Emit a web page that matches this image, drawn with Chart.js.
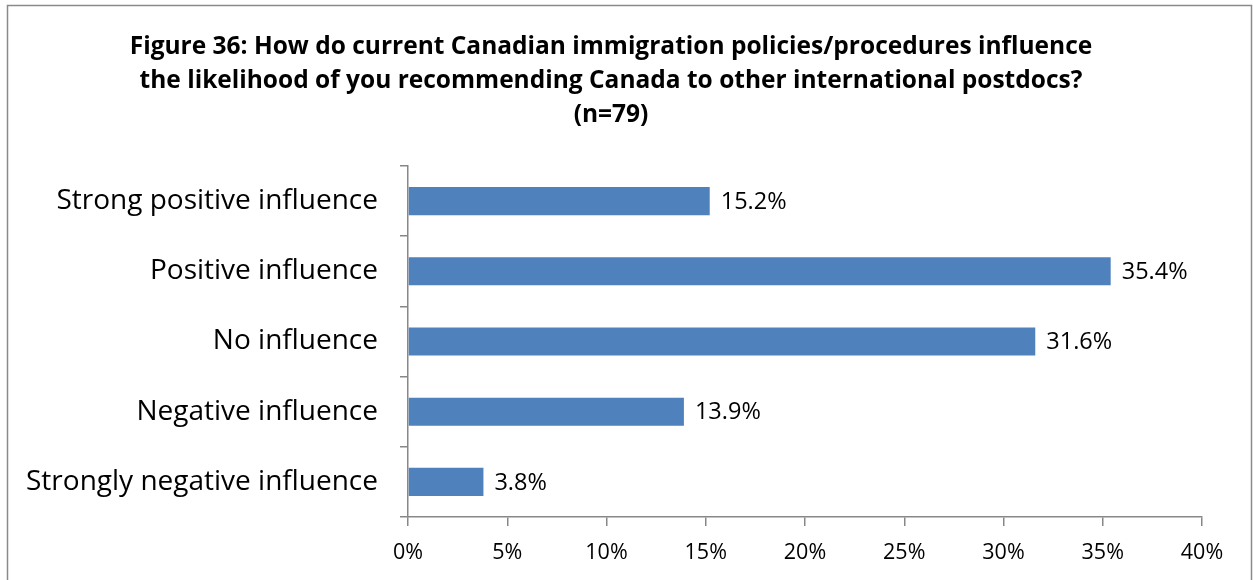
<!DOCTYPE html>
<html>
<head>
<meta charset="utf-8">
<script src="https://cdn.jsdelivr.net/npm/chart.js@4.4.1/dist/chart.umd.min.js"></script>
<style>
  html, body { margin: 0; padding: 0; background: #ffffff; }
  #wrap { width: 1253px; height: 580px; position: relative; }
</style>
</head>
<body>
<div id="wrap"><canvas id="c" width="1253" height="580"></canvas></div>
<script>
const titleLines = [
  "Figure 36: How do current Canadian immigration policies/procedures influence",
  "the likelihood of you recommending Canada to other international postdocs?",
  "(n=79)"
];
const categories = [
  "Strong positive influence",
  "Positive influence",
  "No influence",
  "Negative influence",
  "Strongly negative influence"
];
const values = [15.2, 35.4, 31.6, 13.9, 3.8];
const xTicks = [0, 5, 10, 15, 20, 25, 30, 35, 40];

const FONT = "'Open Sans', sans-serif";
const AXIS = "#878787";

const frame = {
  id: 'frame',
  beforeDraw(chart) {
    const ctx = chart.ctx;
    ctx.save();
    ctx.fillStyle = '#ffffff';
    ctx.fillRect(0, 0, chart.width, chart.height);
    ctx.strokeStyle = '#8a8a8a';
    ctx.lineWidth = 1.5;
    ctx.strokeRect(7.5, 5.5, 1244, 700);
    ctx.restore();
  }
};

const barLabels = {
  id: 'barLabels',
  afterDatasetsDraw(chart) {
    const ctx = chart.ctx;
    const meta = chart.getDatasetMeta(0);
    ctx.save();
    ctx.font = "23.5px " + FONT;
    ctx.fillStyle = '#000000';
    ctx.textAlign = 'left';
    ctx.textBaseline = 'middle';
    meta.data.forEach((bar, i) => {
      ctx.fillText(values[i].toFixed(1) + '%', bar.x + 11, bar.y + 1);
    });
    ctx.restore();
  }
};

new Chart(document.getElementById('c'), {
  type: 'bar',
  data: {
    labels: categories,
    datasets: [{
      data: values,
      backgroundColor: '#4F81BD',
      borderWidth: 0,
      barPercentage: 0.4,
      categoryPercentage: 1.0
    }]
  },
  options: {
    indexAxis: 'y',
    responsive: false,
    animation: false,
    devicePixelRatio: 1,
    layout: { padding: { left: 20, right: 51, top: 30, bottom: 0 } },
    plugins: {
      legend: { display: false },
      tooltip: { enabled: false },
      title: {
        display: true,
        text: titleLines,
        color: '#000000',
        font: { family: FONT, size: 24.5, weight: 'bold', lineHeight: 34 / 24.5 },
        padding: { top: 0, bottom: 34 }
      }
    },
    scales: {
      x: {
        type: 'linear',
        min: 0,
        max: 40,
        afterBuildTicks(scale) { scale.ticks = xTicks.map(v => ({ value: v })); },
        afterFit(scale) { scale.height = 580 - 517; },
        ticks: {
          color: '#000000',
          font: { family: FONT, size: 21.5 },
          padding: 14,
          maxRotation: 0,
          callback: (v) => v + '%'
        },
        grid: {
          display: true,
          drawOnChartArea: false,
          drawTicks: true,
          tickLength: 9,
          color: AXIS,
          lineWidth: 1.5
        },
        border: { display: true, color: AXIS, width: 1.5 }
      },
      y: {
        type: 'category',
        offset: true,
        afterFit(scale) { scale.width = 408 - 20; },
        ticks: {
          color: '#000000',
          font: { family: FONT, size: 28 },
          padding: 22
        },
        grid: {
          display: true,
          offset: true,
          drawOnChartArea: false,
          drawTicks: true,
          tickLength: 8,
          color: AXIS,
          lineWidth: 1.5
        },
        border: { display: true, color: AXIS, width: 1.5 }
      }
    }
  },
  plugins: [frame, barLabels]
});
</script>
</body>
</html>
